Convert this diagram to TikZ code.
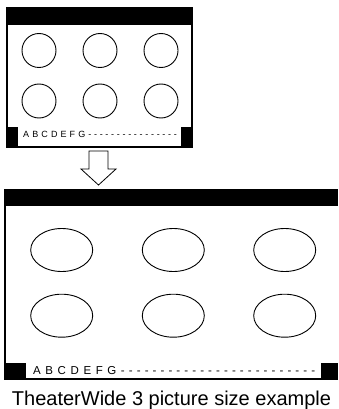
\documentclass[tikz,border=0pt]{standalone}
\usepackage{fontspec}
\setmainfont{Liberation Sans}

\begin{document}
\begin{tikzpicture}[x=1pt,y=-1pt,
  bubble/.style={line width=0.9pt},
  striptext/.style={anchor=base west, inner sep=0pt}]
\useasboundingbox (0,0) rectangle (338,409);
% 4:3 screen
\fill (6,7) rectangle (193,25);
\draw[line width=2pt] (7,25) -- (7,147) -- (192,147) -- (192,25);
\fill (6,127) rectangle (18,148);
\fill (181,127) rectangle (193,148);
\node[striptext, font=\fontsize{9}{9}\selectfont] (smallstrip) at (23,137.5)
  {\foreach \c in {A,B,C,D,E,F,G}{\c\kern3.1pt}\foreach \i in {1,...,16}{-\kern2.7pt}};
\foreach \x in {39,100,161} {
  \foreach \y in {50.5,101} {
    \draw[bubble] (\x,\y) circle [radius=17pt];
  }
}
% arrow
\draw[line width=0.8pt, fill=white] (89,151) -- (108,151) -- (108,169) -- (116,169) -- (98.5,185) -- (81,169) -- (89,169) -- cycle;
% wide screen
\fill (4,189) rectangle (338,206);
\draw[line width=2pt] (5,206) -- (5,379);
\fill (4,377.5) rectangle (338,380);
\fill (4,363) rectangle (26,380);
\fill (321,363) rectangle (338,380);
\node[striptext, font=\fontsize{11.5}{11.5}\selectfont] (bigstrip) at (33,374.5)
  {\foreach \c in {A,B,C,D,E,F,G}{\c\kern4.6pt}\foreach \i in {1,...,25}{-\kern4.1pt}};
\foreach \x in {61.7,173.3,284.7} {
  \foreach \y in {250,315.7} {
    \draw[bubble] (\x,\y) ellipse [x radius=31pt, y radius=21.5pt];
  }
}
\node[anchor=base, inner sep=0pt, font=\fontsize{20}{20}\selectfont] (caption) at (171.5,405) {TheaterWide 3 picture size example};
\end{tikzpicture}
\end{document}
